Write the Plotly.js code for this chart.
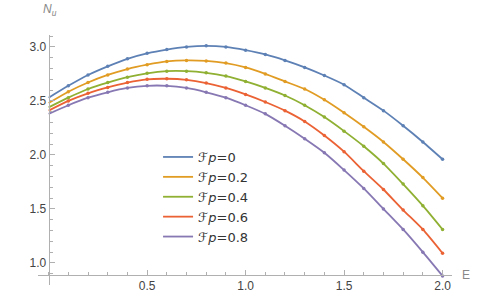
<!DOCTYPE html>
<html><head><meta charset="utf-8">
<script src="https://cdn.plot.ly/plotly-3.0.1.min.js"></script>
<style>html,body{margin:0;padding:0;background:#fff}#chart{width:501px;height:307px}</style>
</head><body><div id="chart"></div>
<script>
const E = [0,0.1,0.2,0.3,0.4,0.5,0.6,0.7,0.8,0.9,1.0,1.1,1.2,1.3,1.4,1.5,1.6,1.7,1.8,1.9,2.0];
const fp0 = [2.53,2.64,2.74,2.82,2.89,2.94,2.975,3.0,3.01,3.0,2.97,2.93,2.875,2.81,2.735,2.65,2.53,2.41,2.27,2.12,1.96];
const fp02 = [2.48,2.585,2.67,2.74,2.795,2.835,2.865,2.875,2.87,2.85,2.81,2.75,2.68,2.61,2.51,2.39,2.26,2.12,1.96,1.79,1.6];
const fp04 = [2.44,2.53,2.61,2.67,2.72,2.755,2.775,2.775,2.76,2.73,2.68,2.62,2.55,2.46,2.35,2.22,2.08,1.92,1.73,1.53,1.31];
const fp06 = [2.41,2.5,2.57,2.625,2.67,2.7,2.705,2.695,2.665,2.62,2.56,2.49,2.41,2.31,2.18,2.03,1.85,1.68,1.49,1.31,1.09];
const fp08 = [2.38,2.46,2.53,2.58,2.62,2.64,2.64,2.62,2.58,2.53,2.46,2.38,2.27,2.15,2.02,1.86,1.69,1.50,1.31,1.10,0.88];
const seriesNames = ["ℱ<i>p</i>=0","ℱ<i>p</i>=0.2","ℱ<i>p</i>=0.4","ℱ<i>p</i>=0.6","ℱ<i>p</i>=0.8"];
const seriesValues = [fp0, fp02, fp04, fp06, fp08];
const colors = ["#5E81B5","#E19C24","#8FB032","#EB6235","#8778B3"];
const xTicks = [0.5,1.0,1.5,2.0];
const yTicks = [1.0,1.5,2.0,2.5,3.0];

const traces = [];
seriesValues.forEach((v,i)=>{
  traces.push({x:E, y:v, type:'scatter', mode:'lines', name:seriesNames[i],
    line:{color:colors[i], width:1.8, shape:'spline', smoothing:0.6}, hoverinfo:'skip'});
});
seriesValues.forEach((v,i)=>{
  traces.push({x:E.slice(1), y:v.slice(1), type:'scatter', mode:'markers', showlegend:false,
    marker:{color:colors[i], size:3.5}, hoverinfo:'skip', cliponaxis:false});
});

const axisColor = '#b0b0b0';
const tickFont = {family:'Liberation Sans, Arial, sans-serif', size:12, color:'#444'};
const layout = {
  width:501, height:307,
  margin:{l:38, r:49, t:35, b:22, pad:0},
  paper_bgcolor:'#fff', plot_bgcolor:'#fff',
  showlegend:true,
  xaxis:{range:[-0.054,2.048], showgrid:false, zeroline:false,
    showline:true, linecolor:axisColor, linewidth:1,
    anchor:'free', position:0.0406,
    tickvals:xTicks, ticktext:xTicks.map(t=>t.toFixed(1)),
    ticks:'inside', ticklen:5, tickcolor:axisColor,
    minor:{dtick:0.1, tick0:0, ticks:'inside', ticklen:3, tickcolor:axisColor},
    tickfont:tickFont},
  yaxis:{range:[0.796,3.11], showgrid:false, zeroline:false,
    showline:true, linecolor:axisColor, linewidth:1,
    anchor:'free', position:0.0257,
    tickvals:yTicks, ticktext:yTicks.map(t=>t.toFixed(1)),
    ticks:'inside', ticklen:5, tickcolor:axisColor,
    minor:{dtick:0.1, tick0:0, ticks:'inside', ticklen:3, tickcolor:axisColor},
    tickfont:tickFont},
  legend:{x:0.29, y:0.572, xanchor:'left', yanchor:'top', bgcolor:'rgba(0,0,0,0)',
    font:{family:'DejaVu Sans, Liberation Sans, sans-serif', size:13, color:'#333'},
    itemwidth:30, tracegroupgap:0},
  annotations:[
    {text:'<i>N<sub>u</sub></i>', xref:'paper', yref:'paper', x:0.03, y:1.06, showarrow:false,
      xanchor:'center', yanchor:'bottom', font:{family:'Liberation Sans, sans-serif', size:12, color:'#888'}},
    {text:'E', xref:'paper', yref:'paper', x:1.0, y:0.0406, showarrow:false,
      xanchor:'left', yanchor:'middle', xshift:8, font:{family:'Liberation Sans, sans-serif', size:12, color:'#888'}}
  ]
};
Plotly.newPlot('chart', traces, layout, {displayModeBar:false, staticPlot:true});
</script></body></html>
